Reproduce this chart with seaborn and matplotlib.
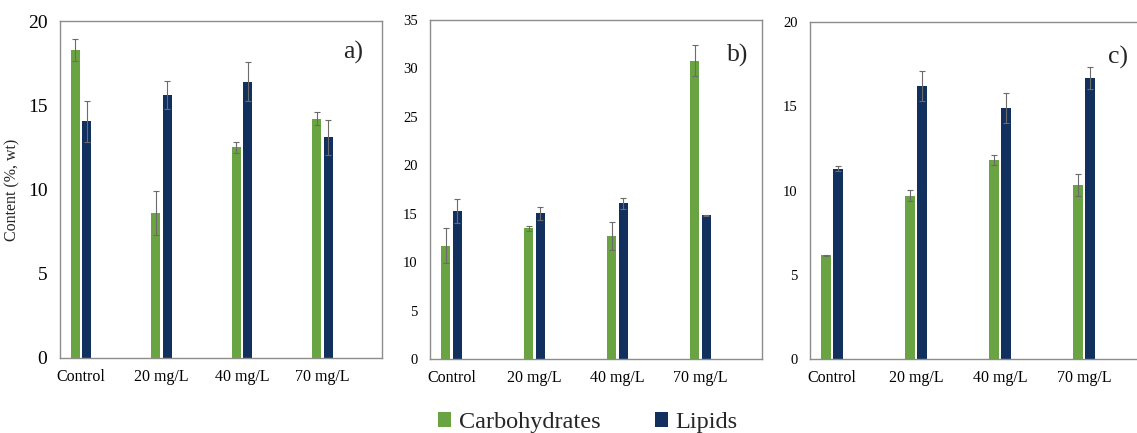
import matplotlib
matplotlib.use("Agg")
import matplotlib.pyplot as plt
import seaborn as sns
import pandas as pd
import numpy as np
from matplotlib.patches import Patch

categories = ["Control", "20 mg/L", "40 mg/L", "70 mg/L"]
series_names = ["Carbohydrates", "Lipids"]

# Panel a
a_carb = [18.3, 8.6, 12.5, 14.2]
a_carb_err = [0.65, 1.3, 0.32, 0.4]
a_lip = [14.05, 15.6, 16.4, 13.1]
a_lip_err = [1.23, 0.83, 1.14, 1.03]
# Panel b
b_carb = [11.7, 13.5, 12.7, 30.8]
b_carb_err = [1.8, 0.25, 1.4, 1.6]
b_lip = [15.25, 15.05, 16.1, 14.85]
b_lip_err = [1.24, 0.65, 0.57, 0.05]
# Panel c
c_carb = [6.15, 9.7, 11.8, 10.35]
c_carb_err = [0.05, 0.32, 0.28, 0.65]
c_lip = [11.3, 16.2, 14.9, 16.7]
c_lip_err = [0.14, 0.87, 0.87, 0.65]

y_max = [20, 35, 20]
y_step = [5, 5, 5]
panel_tags = ["a)", "b)", "c)"]

green = "#6aa342"
navy = "#11305e"
frame_col = "#8c8c8c"

sns.set_theme(style="white")
plt.rcParams["font.family"] = ["Liberation Serif", "DejaVu Serif"]

fig = plt.figure(figsize=(11.37, 4.33), dpi=100)

W, H = 1137.0, 433.0
# (left, right, top, bottom) in pixels
boxes = [(60, 382, 21, 358), (430, 762, 20, 359), (810, 1146, 22, 359)]
ytick_sizes = [14, 10.5, 10.5]
tag_pos = [(0.91, 0.908), (0.928, 0.894), (0.917, 0.895)]

panels = [
    (a_carb, a_carb_err, a_lip, a_lip_err),
    (b_carb, b_carb_err, b_lip, b_lip_err),
    (c_carb, c_carb_err, c_lip, c_lip_err),
]

for i, (carb, carb_err, lip, lip_err) in enumerate(panels):
    l, r, t, b = boxes[i]
    ax = fig.add_axes([l / W, (H - b) / H, (r - l) / W, (b - t) / H])
    df = pd.DataFrame({
        "category": categories * 2,
        "series": [series_names[0]] * 4 + [series_names[1]] * 4,
        "value": list(carb) + list(lip),
    })
    sns.barplot(data=df, x="category", y="value", hue="series",
                order=categories, hue_order=series_names,
                palette=[green, navy], width=0.285, gap=0.2,
                errorbar=None, legend=False, ax=ax, saturation=1,
                linewidth=0)
    for cont, errs in zip(ax.containers, [carb_err, lip_err]):
        xs = [p.get_x() + p.get_width() / 2 for p in cont.patches]
        hs = [p.get_height() for p in cont.patches]
        ax.errorbar(xs, hs, yerr=errs, fmt="none", ecolor="#6b6b6b",
                    elinewidth=0.8, capsize=2.2, capthick=0.8)
    ax.set_xlim(-0.26, 3.74)
    ax.set_ylim(0, y_max[i])
    ax.set_yticks(np.arange(0, y_max[i] + 0.1, y_step[i]))
    ax.set_xlabel("")
    ax.set_ylabel("")
    ax.tick_params(axis="x", length=0, labelsize=11.5, pad=8, colors="black")
    ax.tick_params(axis="y", length=0, labelsize=ytick_sizes[i], pad=9, colors="black")
    for s in ax.spines.values():
        s.set_visible(True)
        s.set_color(frame_col)
        s.set_linewidth(1.0)
    ax.text(tag_pos[i][0], tag_pos[i][1], panel_tags[i], transform=ax.transAxes,
            fontsize=18.5, ha="center", va="center")
    if i == 0:
        ax.set_ylabel("Content (%, wt)", fontsize=11.5)
        ax.yaxis.set_label_coords(-0.124, 0.5)

handles = [Patch(facecolor=green, edgecolor="none"), Patch(facecolor=navy, edgecolor="none")]
fig.legend(handles, series_names, loc="center", bbox_to_anchor=(0.517, 0.024),
           ncol=2, frameon=False, fontsize=17.5, handlelength=0.55,
           handleheight=0.55, handletextpad=0.3, columnspacing=2.25)

fig.savefig("out.png", dpi=100)
